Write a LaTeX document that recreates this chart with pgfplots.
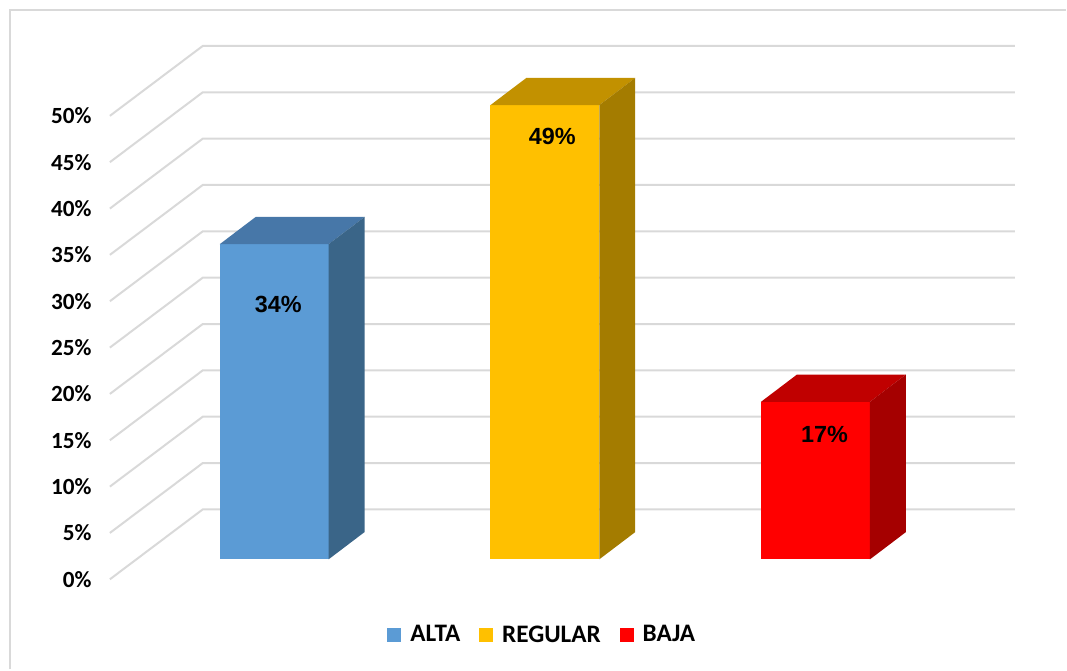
\documentclass[border=0pt]{standalone}
\usepackage{pgfplots}
\pgfplotsset{compat=1.18}
\usepackage{fontspec}
\setmainfont{Carlito}
\newfontfamily\arialf{Liberation Sans}

\definecolor{gridc}{HTML}{D9D9D9}
\definecolor{altaF}{HTML}{5B9BD5}
\definecolor{altaT}{HTML}{4777A8}
\definecolor{altaS}{HTML}{3A6588}
\definecolor{regF}{HTML}{FFC000}
\definecolor{regT}{HTML}{C29100}
\definecolor{regS}{HTML}{A47C00}
\definecolor{bajF}{HTML}{FF0000}
\definecolor{bajT}{HTML}{C00000}
\definecolor{bajS}{HTML}{A50000}

\pgfplotsset{sqleg/.style={legend image code/.code={\fill[##1] (0pt,-3.5pt) rectangle (7pt,3.5pt);}}}

% 1 unit on x = 1 px, 1 unit on y = 1 % (9.28 px); y=0 is the bar floor
\begin{document}
\begin{tikzpicture}
\begin{axis}[
    x=0.5pt, y=4.64pt,
    xmin=0, xmax=1067, ymin=-11.853, ymax=60.345,
    hide axis, clip=false,
    legend style={at={(axis cs:544,-8.19)}, anchor=center, draw=none, fill=none,
        legend columns=-1, font=\bfseries\fontsize{12.6}{14}\selectfont,
        /tikz/every odd column/.append style={column sep=2.5pt},
        /tikz/every even column/.append style={column sep=7.5pt}},
]
\addplot[draw=none, forget plot] coordinates {(0,-11.853) (1067,60.345)};
% frame
\addplot[gridc, line width=1.3pt, line join=miter, forget plot]
    coordinates {(10,-11.853) (10,59.27) (1067,59.27)};
% walls and ticks
\pgfplotsinvokeforeach{0,5,...,50}{
    \draw[gridc, line width=1pt] (axis cs:110,{#1-2.155}) -- (axis cs:203,{#1+5.388}) -- (axis cs:1016,{#1+5.388});
    \node[anchor=east, inner sep=0pt, font=\bfseries\fontsize{11.6}{13}\selectfont] at (axis cs:92,{#1-2.155}) {#1\%};
}
% ALTA
\addplot[ybar, bar width=109, bar shift=0, fill=altaF, draw=none, sqleg]
    coordinates {(274.5,34)};
\addlegendentry{ALTA}
\addplot[fill=altaT, draw=none, forget plot] coordinates {(220,34) (329,34) (365,36.94) (256,36.94)} -- cycle;
\addplot[fill=altaS, draw=none, forget plot] coordinates {(329,0) (365,2.94) (365,36.94) (329,34)} -- cycle;
% REGULAR
\addplot[ybar, bar width=109, bar shift=0, fill=regF, draw=none, sqleg]
    coordinates {(545.5,49)};
\addlegendentry{REGULAR}
\addplot[fill=regT, draw=none, forget plot] coordinates {(491,49) (600,49) (636,51.94) (527,51.94)} -- cycle;
\addplot[fill=regS, draw=none, forget plot] coordinates {(600,0) (636,2.94) (636,51.94) (600,49)} -- cycle;
% BAJA
\addplot[ybar, bar width=109, bar shift=0, fill=bajF, draw=none, sqleg]
    coordinates {(816.5,17)};
\addlegendentry{BAJA}
\addplot[fill=bajT, draw=none, forget plot] coordinates {(762,17) (871,17) (907,19.94) (798,19.94)} -- cycle;
\addplot[fill=bajS, draw=none, forget plot] coordinates {(871,0) (907,2.94) (907,19.94) (871,17)} -- cycle;
% data labels
\node[font=\arialf\bfseries\fontsize{11.7}{13}\selectfont] at (axis cs:278.5,27.53) {34\%};
\node[font=\arialf\bfseries\fontsize{11.7}{13}\selectfont] at (axis cs:553,45.58) {49\%};
\node[font=\arialf\bfseries\fontsize{11.7}{13}\selectfont] at (axis cs:825.5,13.51) {17\%};
\end{axis}
\end{tikzpicture}
\end{document}
